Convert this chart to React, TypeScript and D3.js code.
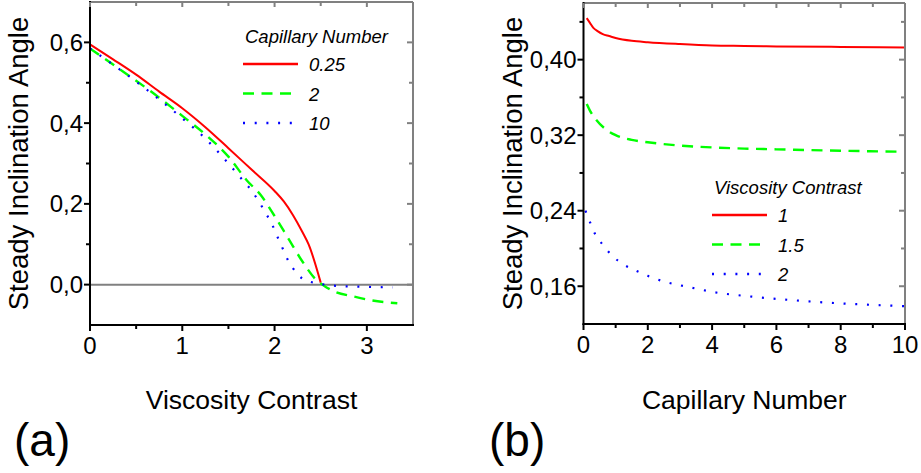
import React from 'react'
import * as d3 from 'd3'

// panel (a): steady angle vs viscosity contrast, one curve per capillary number
const capNumbers = ['0.25', '2', '10']
const aRedX = [0, 0.25, 0.5, 0.75, 1, 1.25, 1.5, 1.75, 2, 2.1, 2.2, 2.3, 2.37, 2.5]
const aRedY = [0.595, 0.558, 0.52, 0.478, 0.437, 0.39, 0.338, 0.285, 0.232, 0.206, 0.172, 0.131, 0.099, 0.005]
const aGreenX = [0, 0.25, 0.5, 0.75, 1, 1.25, 1.5, 1.7, 1.85, 2, 2.15, 2.3, 2.45, 2.55, 2.65, 2.85, 3.05, 3.33]
const aGreenY = [0.585, 0.545, 0.505, 0.463, 0.418, 0.372, 0.317, 0.258, 0.222, 0.17, 0.114, 0.058, 0.012, -0.005, -0.017, -0.029, -0.039, -0.046]
const aBlueX = [0, 0.5, 1, 1.25, 1.45, 1.65, 1.76, 1.84, 1.91, 1.975, 2.03, 2.085, 2.14, 2.21, 2.3, 2.42, 2.54, 2.66, 2.9, 3.28]
const aBlueY = [0.585, 0.503, 0.412, 0.362, 0.313, 0.26, 0.23, 0.202, 0.175, 0.148, 0.119, 0.091, 0.063, 0.037, 0.015, 0.005, 0.0, -0.003, -0.005, -0.007]

// panel (b): steady angle vs capillary number, one curve per viscosity contrast
const viscContrasts = ['1', '1.5', '2']
const bRedX = [0.1, 0.2, 0.3, 0.45, 0.6, 0.8, 1, 1.5, 2, 3, 4, 5, 6, 8, 10]
const bRedY = [0.444, 0.439, 0.434, 0.43, 0.427, 0.425, 0.423, 0.42, 0.4185, 0.4165, 0.415, 0.4145, 0.414, 0.4135, 0.4128]
const bGreenX = [0.1, 0.2, 0.4, 0.7, 1, 1.5, 2, 3, 4, 5, 6, 8, 10]
const bGreenY = [0.353, 0.346, 0.336, 0.326, 0.32, 0.315, 0.3125, 0.309, 0.307, 0.3058, 0.305, 0.3035, 0.3025]
const bBlueX = [0.06, 0.2, 0.35, 0.6, 0.9, 1.25, 1.6, 2, 2.5, 3, 3.5, 4, 5, 6, 7, 8, 9, 10]
const bBlueY = [0.24, 0.228, 0.216, 0.204, 0.192, 0.183, 0.177, 0.171, 0.165, 0.161, 0.1575, 0.154, 0.1498, 0.1466, 0.144, 0.1418, 0.1402, 0.1389]

// ticks
const aXTicks = [0, 1, 2, 3]
const aXMinor = [0.5, 1.5, 2.5]
const aYTicks = [0, 0.2, 0.4, 0.6]
const aYLabels = ['0,0', '0,2', '0,4', '0,6']
const aYMinor = [0.1, 0.3, 0.5]
const bXTicks = [0, 2, 4, 6, 8, 10]
const bXMinor = [1, 3, 5, 7, 9]
const bYTicks = [0.16, 0.24, 0.32, 0.4]
const bYLabels = ['0,16', '0,24', '0,32', '0,40']
const bYMinor = [0.2, 0.28, 0.36, 0.44]

const FONT = 'Liberation Sans, Arial, sans-serif'
const styles = [
  { stroke: '#ff0000', dash: undefined, width: 2 },
  { stroke: '#00ff00', dash: '11 7.5', width: 2.4 },
  { stroke: '#0000ff', dash: '2 9.7', width: 2.2 },
]

const zip = (xs: number[], ys: number[]) => xs.map((x, i) => [x, ys[i]] as [number, number])

const Panel = ({ x, y, series, xTicks, xMinor, yTicks, yLabels, yMinor, xTitle, legendTitle, legendItems, legendPos, tag, tagX }: any) => {
  const [x0, x1] = x.range()
  const [y0, y1] = y.range()
  const gen = d3.line<[number, number]>().x(d => x(d[0])).y(d => y(d[1])).curve(d3.curveMonotoneX)
  return (
    <g>
      {/* zero line */}
      {y.domain()[0] < 0 && (
        <line x1={x0} x2={x1} y1={y(0)} y2={y(0)} stroke="#808080" strokeWidth={2} />
      )}
      {series.map((s: [number, number][], i: number) => (
        <path key={i} d={gen(s) || ''} fill="none" stroke={styles[i].stroke}
          strokeWidth={styles[i].width} strokeDasharray={styles[i].dash} />
      ))}
      {/* frame */}
      <line x1={x0} x2={x1} y1={y1} y2={y1} stroke="#808080" strokeWidth={2} />
      <line x1={x1} x2={x1} y1={y1} y2={y0} stroke="#808080" strokeWidth={2} />
      <line x1={x0} x2={x0} y1={y1 - 1} y2={y0 + 1} stroke="#000" strokeWidth={2} />
      <line x1={x0 - 1} x2={x1 + 1} y1={y0} y2={y0} stroke="#000" strokeWidth={2} />
      {/* x ticks */}
      {xTicks.map((t: number) => (
        <g key={'xt' + t}>
          <line x1={x(t)} x2={x(t)} y1={y0} y2={y0 + 6} stroke="#000" strokeWidth={2} />
          <line x1={x(t)} x2={x(t)} y1={y1} y2={y1 + 5} stroke="#808080" strokeWidth={2} />
          <text x={x(t)} y={y0 + 29} textAnchor="middle" fontFamily={FONT} fontSize={24}>{t}</text>
        </g>
      ))}
      {xMinor.map((t: number) => (
        <g key={'xm' + t}>
          <line x1={x(t)} x2={x(t)} y1={y0} y2={y0 + 4} stroke="#000" strokeWidth={2} />
          <line x1={x(t)} x2={x(t)} y1={y1} y2={y1 + 4} stroke="#808080" strokeWidth={2} />
        </g>
      ))}
      {/* y ticks */}
      {yTicks.map((t: number, i: number) => (
        <g key={'yt' + t}>
          <line x1={x0 - 6} x2={x0} y1={y(t)} y2={y(t)} stroke="#000" strokeWidth={2} />
          <line x1={x1 - 6} x2={x1} y1={y(t)} y2={y(t)} stroke="#808080" strokeWidth={2} />
          <text x={x0 - 7} y={y(t) + 8.5} textAnchor="end" fontFamily={FONT} fontSize={24}>{yLabels[i]}</text>
        </g>
      ))}
      {yMinor.map((t: number) => (
        <g key={'ym' + t}>
          <line x1={x0 - 4} x2={x0} y1={y(t)} y2={y(t)} stroke="#000" strokeWidth={2} />
          <line x1={x1 - 4} x2={x1} y1={y(t)} y2={y(t)} stroke="#808080" strokeWidth={2} />
        </g>
      ))}
      {/* titles */}
      <text transform={`translate(${x0 - 62},${(y0 + y1) / 2}) rotate(-90)`} textAnchor="middle"
        fontFamily={FONT} fontSize={27.5}>Steady Inclination Angle</text>
      <text x={(x0 + x1) / 2} y={409} textAnchor="middle" fontFamily={FONT} fontSize={26.5}>{xTitle}</text>
      <text x={tagX} y={456} fontFamily={FONT} fontSize={46}>{tag}</text>
      {/* legend */}
      <g transform={`translate(${legendPos[0]},${legendPos[1]})`}>
        <text x={2} y={0} fontFamily={FONT} fontSize={18.5} fontStyle="italic">{legendTitle}</text>
        {legendItems.map((lab: string, i: number) => (
          <g key={lab} transform={`translate(0,${21 + i * 29.5})`}>
            <line x1={0} x2={55} y1={0} y2={0} stroke={styles[i].stroke}
              strokeWidth={styles[i].width + 0.3} strokeDasharray={styles[i].dash} />
            <text x={66} y={7} fontFamily={FONT} fontSize={18.5} fontStyle="italic">{lab}</text>
          </g>
        ))}
      </g>
    </g>
  )
}

export default function App() {
  const ax = d3.scaleLinear().domain([0, 3.5]).range([90, 413])
  const ay = d3.scaleLinear().domain([-0.1, 0.7]).range([325, 2])
  const bx = d3.scaleLinear().domain([0, 10]).range([583.5, 905])
  const by = d3.scaleLinear().domain([0.12, 0.46]).range([324, 3])

  return (
    <svg width={921} height={473} style={{ position: 'absolute', left: 0, top: 0, background: '#fff' }}>
      <Panel x={ax} y={ay}
        series={[zip(aRedX, aRedY), zip(aGreenX, aGreenY), zip(aBlueX, aBlueY)]}
        xTicks={aXTicks} xMinor={aXMinor} yTicks={aYTicks} yLabels={aYLabels} yMinor={aYMinor}
        xTitle="Viscosity Contrast" legendTitle="Capillary Number" legendItems={capNumbers}
        legendPos={[243, 43]} tag="(a)" tagX={14} />
      <Panel x={bx} y={by}
        series={[zip(bRedX, bRedY), zip(bGreenX, bGreenY), zip(bBlueX, bBlueY)]}
        xTicks={bXTicks} xMinor={bXMinor} yTicks={bYTicks} yLabels={bYLabels} yMinor={bYMinor}
        xTitle="Capillary Number" legendTitle="Viscosity Contrast" legendItems={viscContrasts}
        legendPos={[712, 194]} tag="(b)" tagX={489} />
    </svg>
  )
}
